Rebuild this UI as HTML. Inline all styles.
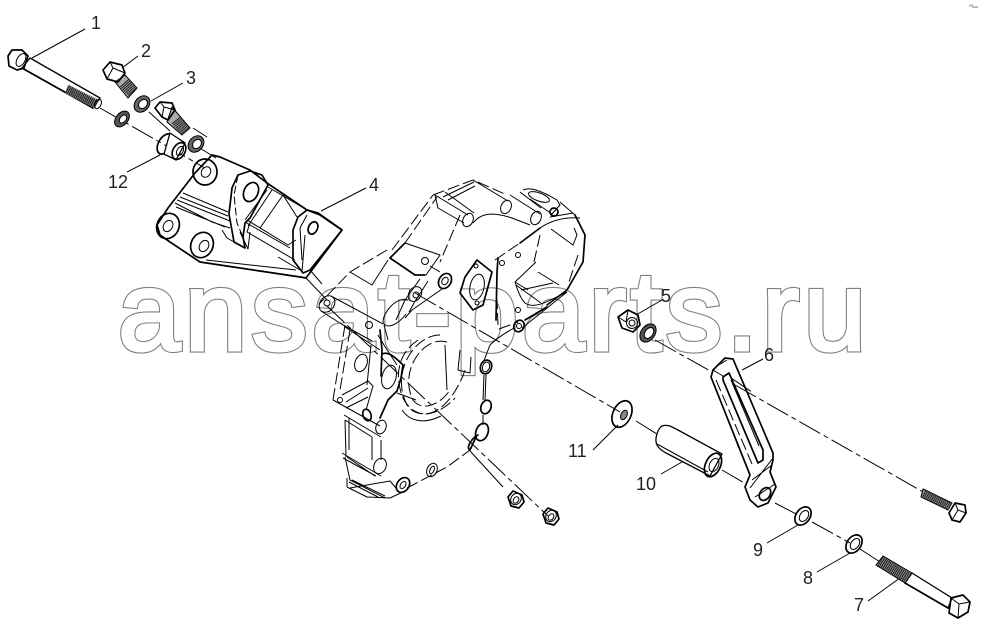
<!DOCTYPE html>
<html><head><meta charset="utf-8"><style>
html,body{margin:0;padding:0;background:#fff}
svg{display:block}
.n{font:18px "Liberation Sans",sans-serif;fill:#222}
.l{stroke:#000;stroke-width:1;fill:none}
.t{stroke:#000;stroke-width:1.7;fill:none;stroke-linejoin:round;stroke-linecap:round}
.m{stroke:#000;stroke-width:1;fill:none;stroke-linejoin:round}
.d{stroke:#000;stroke-width:1;fill:none;stroke-dasharray:24 4 5 4}
.s{stroke:#000;stroke-width:1;fill:none;stroke-dasharray:12 4}
.w{stroke:#000;stroke-width:1.3;fill:#fff}
.r{stroke:#222;fill:none;stroke-dasharray:1.1 .8}
</style></head><body>
<svg width="986" height="637" viewBox="0 0 986 637" xmlns="http://www.w3.org/2000/svg">
<!-- watermark -->
<text x="118" y="350" font-family="'Liberation Sans',sans-serif" font-size="112" textLength="748" fill="none" stroke="#808080" stroke-width="5.2">ansat-parts.ru</text>
<text x="118" y="350" font-family="'Liberation Sans',sans-serif" font-size="112" textLength="748" fill="#fff" stroke="#fff" stroke-width="3">ansat-parts.ru</text>
<path d="M969 6l4-1M972 7h6" stroke="#bbb" stroke-width="2"/>

<!-- axis lines -->
<path class="d" d="M100 108L205 168M415 293L620 412M636 421L660 436M722 470L746 484M775 503L800 516M812 522L850 543M860 549L880 562"/>
<path class="d" d="M655 340L712 372M735 385L925 493"/>
<path class="d" d="M327 306L548 516"/>
<path class="l" d="M149 112L170 131M193 128L207 137M190 142L216 158M306 278L327 300M310 270L322 284M470 451L503 487"/>

<!-- leaders -->
<path class="l" d="M32 58L85 29M122 68L138 56M151 101L183 83M127 172L160 155M321 211L366 188M636 315L662 300M742 370L763 359M593 450L618 425M661 474L682 462M767 543L798 525M817 572L850 553M868 601L900 578"/>

<!-- Bolt 1 -->
<path class="w" d="M30 58L100 98L93 108L22 68Z"/>
<path class="t" d="M22 68L93 108"/>
<path d="M68 85L98 101L94 108L65 93Z" fill="#888"/>
<path class="r" stroke-width="9" d="M67 89L97 104"/>
<ellipse class="m" cx="98" cy="104" rx="3" ry="5" transform="rotate(25 98 104)" fill="#fff"/>
<path class="t" d="M12 50L22 50L28 56L24 68L17 70L9 66L8 56Z" fill="#fff"/>
<ellipse class="m" cx="21" cy="60" rx="4" ry="7" transform="rotate(30 21 60)"/>
<ellipse cx="122" cy="119" rx="6" ry="9" transform="rotate(40 122 119)" fill="#555" stroke="#000"/>
<ellipse cx="123" cy="119" rx="3" ry="4.5" transform="rotate(40 123 119)" fill="#fff" stroke="#000"/>

<!-- Bolt 2 -->
<path d="M125 75L137 88L128 98L115 82Z" fill="#aaa" stroke="#000"/>
<path class="r" stroke-width="11" d="M124 83L133 93"/>
<path class="t" d="M103 70L110 62L122 65L125 73L118 82L107 79Z" fill="#fff"/>
<path class="l" d="M113 68L125 73M113 68L107 79M113 68L110 62"/>
<ellipse cx="142" cy="104" rx="7" ry="9" transform="rotate(40 142 104)" fill="#666" stroke="#000"/>
<ellipse cx="143" cy="104" rx="4" ry="5" transform="rotate(40 143 104)" fill="#fff" stroke="#000"/>
<!-- Bolt 3 -->
<path d="M172 107L190 128L182 135L167 122Z" fill="#aaa" stroke="#000"/>
<path class="r" stroke-width="11" d="M176 120L186 132"/>
<path class="t" d="M155 108L160 102L172 103L175 110L168 120L162 117Z" fill="#fff"/>
<path class="l" d="M164 107L175 110M164 107L162 117M164 107L160 102"/>
<ellipse cx="196" cy="144" rx="7" ry="9" transform="rotate(40 196 144)" fill="#666" stroke="#000"/>
<ellipse cx="197" cy="144" rx="4" ry="5" transform="rotate(40 197 144)" fill="#fff" stroke="#000"/>

<!-- 12 sleeve -->
<ellipse class="t" cx="165" cy="144" rx="6.5" ry="11" transform="rotate(30 165 144)" fill="#fff"/>
<path class="w" d="M170 133L185 143L176 160L164 154Z"/>
<ellipse class="t" cx="179" cy="151" rx="6" ry="9" transform="rotate(30 179 151)" fill="#fff"/>
<ellipse class="l" cx="180" cy="151" rx="3" ry="5" transform="rotate(30 180 151)"/>

<!-- Bracket 4 -->
<path class="t" d="M212 155L195 173L168 208L157 225L160 235L170 242L200 262L300 277L306 278L342 230L320 215L307 210L267 183L250 170L220 157Z" fill="#fff"/>
<path class="l" d="M200 262L302 277M206 260L296 270"/>
<path class="m" d="M183 193L228 212M180 197L228 216M177 200L230 221M175 203L212 222L230 228M176 207L225 227"/>
<path class="t" d="M232 188L238 175L250 171L262 175L268 185L250 218L245 223L243 237L245 248L234 242L229 214Z" fill="#fff"/>
<path class="l" d="M238 175L234 195L237 223L243 237" stroke-dasharray="8 3"/>
<path class="m" d="M222 230L227 238L243 247L245 248M240 232L248 249L250 232"/>
<ellipse class="t" cx="251" cy="192" rx="7" ry="10" transform="rotate(25 251 192)"/>
<path class="m" d="M247 220L288 245L296 240M245 222L290 248M268 187L307 210M250 223L247 232L295 260M267 190L245 220M272 190L248 226"/>
<path class="m" d="M283 195L260 228M283 195L297 217"/>
<path class="t" d="M293 260L293 230L298 217L307 210L318 213L342 230L310 270L303 273Z" fill="#fff"/>
<path class="l" d="M300 228L307 215M300 228L302 260M305 235L302 272"/>
<path class="m" d="M278 257L300 270"/>
<ellipse class="t" cx="313" cy="228" rx="4.5" ry="6.5" transform="rotate(25 313 228)"/>
<ellipse class="t" cx="205" cy="172" rx="12" ry="13" fill="#fff"/>
<ellipse class="m" cx="206" cy="172" rx="4.5" ry="5.5" transform="rotate(30 206 172)"/>
<ellipse class="t" cx="168" cy="226" rx="11" ry="13" transform="rotate(25 168 226)" fill="#fff"/>
<ellipse class="m" cx="168" cy="226" rx="4.5" ry="6" transform="rotate(30 168 226)"/>
<ellipse class="t" cx="202" cy="245" rx="11" ry="13" transform="rotate(25 202 245)" fill="#fff"/>
<ellipse class="m" cx="204" cy="246" rx="4.5" ry="6" transform="rotate(30 204 246)"/>

<!-- Housing -->
<g>
<!-- top -->
<path class="s" d="M433 195L473 180L507 195"/>
<path class="m" d="M443 197L474 182M448 200L475 186M435 195L468 215M445 192L474 213"/>
<ellipse class="m" cx="468" cy="220" rx="5" ry="7" transform="rotate(25 468 220)"/>
<path class="m" d="M473 180L508 201M473 223C480 214 490 211 512 218L530 225"/>
<ellipse class="m" cx="506" cy="207" rx="5" ry="7" transform="rotate(25 506 207)"/>
<path class="m" d="M510 195L540 214M520 192L541 208"/>
<ellipse class="m" cx="536" cy="218" rx="5" ry="7" transform="rotate(25 536 218)"/>
<path class="m" d="M523 190C530 187 540 190 557 200L560 205L552 214L530 199"/>
<ellipse class="m" cx="539" cy="197" rx="11" ry="4" transform="rotate(20 539 197)"/>
<circle class="t" cx="554" cy="212" r="4" fill="#fff"/>
<path class="m" d="M560 202L575 215"/>
<path class="t" d="M575 215L585 235L583 262L567 290L547 305"/>
<path class="m" d="M550 217L573 213"/>
<!-- window -->
<path class="t" d="M520 243L540 228"/>
<path class="m" d="M540 228C552 220 566 217 580 218"/>
<path class="s" d="M495 260L520 243"/>
<path class="m" d="M551 229L573 245L577 235L574 228"/>
<path class="s" d="M540 235L534 262M578 255L569 282"/>
<path class="m" d="M515 282C518 292 522 300 525 303C535 310 550 300 567 292M515 282L536 262M515 282L528 290M521 290L553 283M538 272L559 285M516 285L541 303"/>
<path class="t" d="M498 258L497 272L496 320"/>
<path class="s" d="M498 325L497 300M499 329L518 322"/>
<path class="t" d="M525 320L547 307"/>
<path class="m" d="M522 328L567 292M514 328C505 333 495 340 490 345L483 363"/>
<circle class="m" cx="502" cy="263" r="2.5"/><circle class="m" cx="518" cy="255" r="2.5"/><circle class="m" cx="518" cy="310" r="2.5"/>
<ellipse class="t" cx="519" cy="326" rx="5" ry="6" transform="rotate(30 519 326)" fill="#fff"/>
<circle class="m" cx="519" cy="326" r="2.5"/>
<!-- gasket flange -->
<path class="t" d="M477 260L492 272L483 305L473 310L460 293L465 277Z"/>
<ellipse class="m" cx="477" cy="287" rx="7" ry="13" transform="rotate(12 477 287)"/>
<circle class="m" cx="476" cy="266" r="2"/><circle class="m" cx="477" cy="303" r="2"/>
<!-- centre column -->
<path class="s" d="M392 250L433 195M405 243L437 197M460 215L440 262"/>
<path class="m" d="M435 195L438 208L464 223"/>
<path class="t" d="M390 258L405 243M390 258L415 275L425 275"/>
<path class="m" d="M405 243L440 255L426 275"/>
<circle class="m" cx="425" cy="261" r="3.5"/>
<ellipse class="t" cx="445" cy="281" rx="6" ry="8" transform="rotate(30 445 281)" fill="#fff"/>
<ellipse class="m" cx="445" cy="281" rx="3" ry="4" transform="rotate(30 445 281)"/>
<path class="m" d="M440 272L430 266M442 289L412 310L405 318M420 279L405 300L396 320M428 281L414 303L409 312"/>
<circle class="m" cx="416" cy="295" r="3"/><ellipse class="m" cx="415" cy="294" rx="6" ry="8" transform="rotate(35 415 294)"/>
<path class="m" d="M406 314C398 325 386 330 383 322C383 312 397 296 408 300"/>
<!-- left part -->
<path class="s" d="M387 250L350 272L320 303"/>
<path class="m" d="M350 272L372 285L388 260"/>
<ellipse class="m" cx="327" cy="304" rx="7" ry="9" transform="rotate(40 327 304)"/>
<circle class="m" cx="327" cy="303" r="3"/>
<path class="m" d="M321 311L343 325L372 341M331 296L383 324"/>
<circle class="m" cx="369" cy="325" r="3.5"/>
<path class="t" d="M380 330L382 350L381 376"/>
<path class="m" d="M384 325L388 340M378 335L384 345L397 365"/>
<path class="s" d="M345 325L333 400M350 330L340 390"/>
<path class="l" d="M345 327L380 350M333 400L380 426"/>
<path class="m" d="M342 395L368 381L373 386L366 410M346 402L368 388M346 408L368 397M371 345L367 385"/>
<ellipse class="m" cx="361" cy="363" rx="6" ry="9" transform="rotate(20 361 363)"/>
<circle class="m" cx="340" cy="400" r="2.5"/>
<ellipse class="t" cx="367" cy="415" rx="4" ry="6" transform="rotate(-20 367 415)"/>
<path class="t" d="M382 354C388 351 395 357 403 365L401 378L397 391L388 400L380 418"/>
<ellipse class="m" cx="389" cy="377" rx="7" ry="12" transform="rotate(15 389 377)"/>
<!-- lower left -->
<path class="m" d="M344 415L381 437M345 420L372 437M345 420L346 457M349 418L349 450M372 437L372 460M381 440L381 460"/>
<ellipse class="m" cx="381" cy="427" rx="5" ry="7" transform="rotate(20 381 427)" fill="#fff"/>
<path class="m" d="M342 453L381 476M343 458L376 476M347 457L375 476M345 457L350 480L385 498"/>
<ellipse class="m" cx="380" cy="466" rx="6" ry="8" transform="rotate(25 380 466)" fill="#fff"/>
<path class="m" d="M347 487L367 497L390 498L407 490M347 478L347 487"/>
<path class="m" d="M350 488L390 481L396 488M352 480L385 496M349 482L378 497"/>
<ellipse class="t" cx="403" cy="485" rx="6" ry="8" transform="rotate(35 403 485)" fill="#fff"/>
<ellipse class="m" cx="403" cy="485" rx="2.5" ry="4" transform="rotate(35 403 485)"/>
<path class="s" d="M407 488L447 467L470 450"/>
<ellipse class="m" cx="432" cy="470" rx="5" ry="7" transform="rotate(25 432 470)"/>
<ellipse class="m" cx="432" cy="470" rx="2" ry="4" transform="rotate(25 432 470)"/>
<path class="t" d="M470 450C465 448 473 437 478 435M470 450L476 437"/>
<!-- big round opening -->
<path class="s" d="M418 340C400 352 393 373 403 398C410 412 425 420 440 408C452 400 462 380 465 370"/>
<path class="s" d="M440 335C415 335 390 372 407 405C417 420 440 415 455 398"/>
<path class="s" d="M447 342C425 335 398 370 413 400C422 412 440 405 450 390"/>
<path class="m" d="M460 350L458 370L470 373L471 357M445 345L447 390"/>
<path class="m" d="M402 410C410 422 425 424 441 416M397 393L416 400"/>
<!-- right bosses -->
<ellipse class="t" cx="486" cy="367" rx="5.5" ry="7" transform="rotate(20 486 367)" fill="#fff"/>
<ellipse class="m" cx="486" cy="367" rx="3.5" ry="5" transform="rotate(20 486 367)"/>
<ellipse class="t" cx="486" cy="407" rx="5" ry="7" transform="rotate(20 486 407)" fill="#fff"/>
<path class="m" d="M484 375L483 400M486 375L485 400M483 415L483 425"/>
<ellipse class="t" cx="482" cy="432" rx="6" ry="9" transform="rotate(20 482 432)" fill="#fff"/>
</g>

<!-- lower nuts -->
<path class="t" d="M508 497L513 491L522 495L524 502L519 508L511 506Z" fill="#fff"/>
<ellipse class="m" cx="516" cy="499" rx="5" ry="6" transform="rotate(35 516 499)"/>
<ellipse class="m" cx="516" cy="500" rx="2.5" ry="3.5" transform="rotate(35 516 500)"/>
<path class="t" d="M543 514L548 508L557 512L559 519L554 525L546 523Z" fill="#fff"/>
<ellipse class="m" cx="551" cy="516" rx="5" ry="6" transform="rotate(35 551 516)"/>
<ellipse class="m" cx="551" cy="517" rx="2.5" ry="3.5" transform="rotate(35 551 517)"/>

<!-- 5 nut and washer -->
<path class="t" d="M618 317L628 310L638 315L640 325L633 332L622 328Z" fill="#fff"/>
<path class="m" d="M628 310L626 322M618 317L626 322"/>
<circle class="m" cx="632" cy="323" r="5.5"/><circle class="m" cx="632" cy="323" r="3"/>
<ellipse cx="648" cy="333" rx="7" ry="10" transform="rotate(35 648 333)" fill="#555" stroke="#000"/>
<ellipse cx="649" cy="333" rx="4" ry="6" transform="rotate(35 649 333)" fill="#fff" stroke="#000"/>

<!-- 11 washer -->
<ellipse class="t" cx="622" cy="414" rx="9" ry="14" transform="rotate(25 622 414)" fill="#fff"/>
<ellipse cx="624" cy="415" rx="3" ry="5" transform="rotate(25 624 415)" fill="#888" stroke="#000"/>

<!-- 10 sleeve -->
<path class="w" d="M662 426C668 424 672 427 678 430L722 454L710 476L668 454C660 450 655 446 656 438C657 432 659 428 662 426Z"/>
<path class="m" d="M657 444L708 472"/>
<ellipse class="t" cx="713" cy="465" rx="7.5" ry="12.5" transform="rotate(25 713 465)" fill="#fff"/>
<ellipse class="m" cx="714" cy="465" rx="4.5" ry="7" transform="rotate(25 714 465)"/>

<!-- 6 strap -->
<path class="t" d="M711 377L713 370L725 358L733 359L773 453L773 460L770 472L776 487L768 503L758 507L750 500L745 487L750 475Z" fill="#fff"/>
<path class="m" d="M713 370L723 376M717 366L727 360M750 488L773 458M752 480L772 465M755 497L775 484"/>
<path class="s" d="M716 380L752 464"/>
<path class="t" d="M723 377L729 373L763 450L763 460L758 463L723 380Z" fill="#fff"/>
<path class="m" d="M731 380L759 446"/>
<ellipse class="t" cx="765" cy="494" rx="5" ry="7" transform="rotate(35 765 494)" fill="#fff"/>
<path class="d" d="M731 378L752 392"/>

<!-- 9 8 washers -->
<ellipse class="t" cx="803" cy="516" rx="7" ry="10" transform="rotate(35 803 516)" fill="#777"/>
<ellipse cx="804" cy="516" rx="4" ry="6" transform="rotate(35 804 516)" fill="#fff" stroke="#000"/>
<ellipse class="t" cx="854" cy="544" rx="7" ry="10" transform="rotate(35 854 544)" fill="#555"/>
<ellipse cx="855" cy="544" rx="4" ry="6" transform="rotate(35 855 544)" fill="#fff" stroke="#000"/>

<!-- upper right bolt -->
<path d="M923 489L952 503L948 510L921 497Z" fill="#999" stroke="#000"/>
<path class="r" stroke-width="8" d="M924 493L950 507"/>
<path class="t" d="M955 503L965 505L966 513L960 522L952 520L949 513Z" fill="#fff"/>
<path class="l" d="M955 503L958 510L966 513M958 510L952 520"/>

<!-- 7 long bolt -->
<path class="w" d="M912 573L952 598L948 608L905 583Z"/>
<path class="t" d="M905 583L948 608"/>
<path d="M883 556L912 573L905 583L876 565Z" fill="#999" stroke="#000"/>
<path class="r" stroke-width="11" d="M880 561L908 578"/>
<path class="t" d="M951 598L963 595L970 602L968 612L958 618L949 613Z" fill="#fff"/>
<path class="l" d="M951 598L959 604L970 602M959 604L958 618"/>

<!-- numbers -->
<text class="n" x="91" y="29">1</text>
<text class="n" x="141" y="57">2</text>
<text class="n" x="186" y="84">3</text>
<text class="n" x="369" y="191">4</text>
<text class="n" x="661" y="302">5</text>
<text class="n" x="764" y="361">6</text>
<text class="n" x="854" y="611">7</text>
<text class="n" x="803" y="584">8</text>
<text class="n" x="753" y="556">9</text>
<text class="n" x="636" y="490">10</text>
<text class="n" x="568" y="457">11</text>
<text class="n" x="108" y="188">12</text>
</svg>
</body></html>
